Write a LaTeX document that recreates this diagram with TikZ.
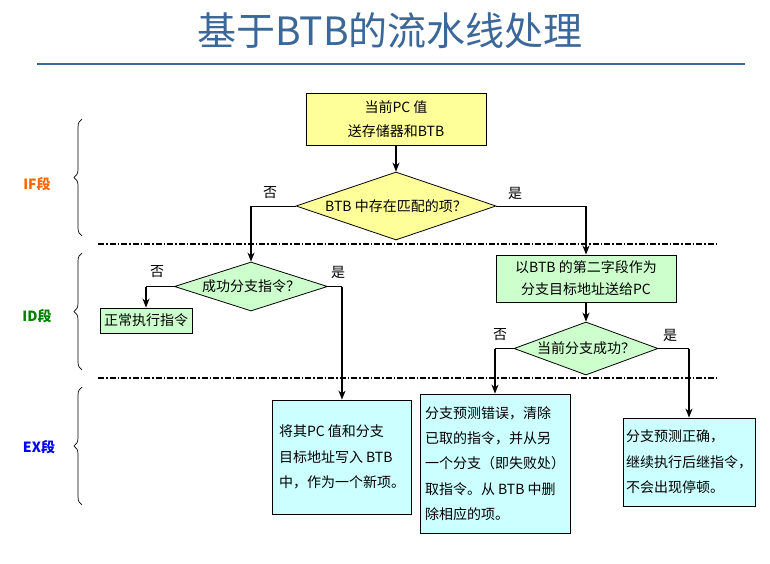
\documentclass[tikz,border=0pt]{standalone}
\usepackage{fontspec}
\setmainfont{Noto Sans CJK SC}
\usetikzlibrary{shapes.geometric,arrows.meta,decorations.pathreplacing,calc}
\definecolor{titleblue}{RGB}{59,104,153}
\definecolor{boxyellow}{RGB}{255,255,153}
\definecolor{boxgreen}{RGB}{204,255,204}
\definecolor{boxcyan}{RGB}{204,255,255}
\definecolor{ifcol}{RGB}{255,102,0}
\definecolor{idcol}{RGB}{0,128,0}
\definecolor{excol}{RGB}{0,0,255}
\tikzset{
  rbox/.style={draw, line width=0.8pt, inner sep=0pt},
  dia/.style={diamond, draw, line width=0.8pt, inner sep=0pt, label={[font=\fontsize{14}{16}\selectfont]center:#1}},
  hline/.style={line width=1pt},
  arr/.style={line width=2.4pt, -{Stealth[length=9pt,width=7pt]}},
  sepline/.style={line width=1.5pt, dash pattern=on 6pt off 2pt on 1.5pt off 2pt},
  bracestyle/.style={line width=0.7pt, decorate, decoration={brace, amplitude=8pt}},
  yn/.style={font=\fontsize{14}{16}\selectfont},
  stage/.style={font=\fontsize{14}{16}\selectfont\bfseries},
}
\begin{document}
\begin{tikzpicture}[x=1pt,y=-1pt]
\useasboundingbox (0,0) rectangle (770,564);
% title
\node[font=\fontsize{39}{42}\selectfont, text=titleblue] (title) at (390,31) {基于BTB的流水线处理};
\draw[titleblue, line width=2pt] (37,64) -- (745,64);
% separators
\draw[sepline] (98,244) -- (716,244);
\draw[sepline] (98,378) -- (716,378);
% braces and stage labels
\draw[bracestyle] (82,236) -- (82,119);
\draw[bracestyle] (82,370) -- (82,253);
\draw[bracestyle] (82,505) -- (82,387);
\node[stage, text=ifcol] (iflab) at (37,184) {IF段};
\node[stage, text=idcol] (idlab) at (37,316) {ID段};
\node[stage, text=excol] (exlab) at (39,447) {EX段};
% nodes
\node[rbox, fill=boxyellow, minimum width=180pt, minimum height=52pt, align=center, font=\fontsize{14}{24}\selectfont] (pc) at (396,119) {当前PC 值\\送存储器和BTB};
\node[dia={BTB 中存在匹配的项？}, fill=boxyellow, minimum width=200pt, minimum height=68pt] (d1) at (396,206) {};
\node[dia={成功分支指令？}, fill=boxgreen, minimum width=153pt, minimum height=49pt] (d2) at (251,286.5) {};
\node[rbox, fill=boxgreen, minimum width=180pt, minimum height=47pt, align=center, font=\fontsize{14}{22}\selectfont] (tgt) at (586,278.5) {以BTB 的第二字段作为\\分支目标地址送给PC};
\node[dia={当前分支成功？}, fill=boxgreen, minimum width=144pt, minimum height=53pt] (d3) at (586,348.5) {};
\node[rbox, fill=boxgreen, minimum width=92pt, minimum height=25pt, font=\fontsize{14}{16}\selectfont] (norm) at (146,320.5) {正常执行指令};
\node[rbox, fill=boxcyan, minimum width=139pt, minimum height=114pt, align=left, font=\fontsize{14}{25.5}\selectfont] (boxa) at (342,457) {将其PC 值和分支\\目标地址写入 BTB\\中，作为一个新项。};
\node[rbox, fill=boxcyan, minimum width=150pt, minimum height=139pt, align=left, font=\fontsize{14}{25.3}\selectfont] (boxb) at (495,463.5) {分支预测错误，清除\\已取的指令，并从另\\一个分支（即失败处）\\取指令。从 BTB 中删\\除相应的项。};
\node[rbox, fill=boxcyan, minimum width=132pt, minimum height=88pt, align=left, font=\fontsize{14}{25.5}\selectfont] (boxc) at (689,462) {分支预测正确，\\继续执行后继指令，\\不会出现停顿。};
% yes / no labels
\node[yn] (n1) at (270,193) {否};
\node[yn] (y1) at (515,193) {是};
\node[yn] (n2) at (157,272) {否};
\node[yn] (y2) at (338,272) {是};
\node[yn] (n3) at (500,335) {否};
\node[yn] (y3) at (670,335) {是};
% connectors
\draw[arr] (pc.south) -- (d1.north);
\draw[hline] (d1.west) -- (d1.west -| d2.north);
\draw[arr] (d1.west -| d2.north) -- (d2.north);
\draw[hline] (d1.east) -- (d1.east -| tgt.north);
\draw[arr] (d1.east -| tgt.north) -- (tgt.north);
\draw[hline] (d2.west) -- (d2.west -| norm.north);
\draw[arr] (d2.west -| norm.north) -- (norm.north);
\draw[hline] (d2.east) -- (d2.east -| boxa.north);
\draw[arr] (d2.east -| boxa.north) -- (boxa.north);
\draw[arr] (tgt.south) -- (d3.north);
\draw[hline] (d3.west) -- (d3.west -| boxb.north);
\draw[arr] (d3.west -| boxb.north) -- (boxb.north);
\draw[hline] (d3.east) -- (d3.east -| boxc.north);
\draw[arr] (d3.east -| boxc.north) -- (boxc.north);
\end{tikzpicture}
\end{document}
